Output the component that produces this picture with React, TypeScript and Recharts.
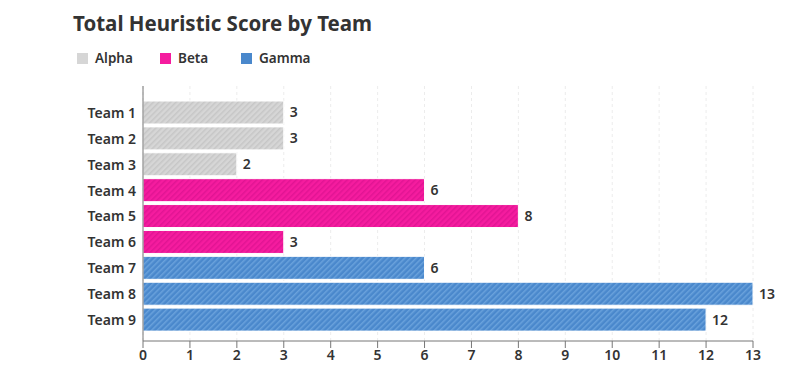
import {
  BarChart,
  Bar,
  XAxis,
  YAxis,
  CartesianGrid,
  Cell,
  LabelList,
} from "recharts";

const teams = ["Team 1", "Team 2", "Team 3", "Team 4", "Team 5", "Team 6", "Team 7", "Team 8", "Team 9"];
const scores = [3, 3, 2, 6, 8, 3, 6, 13, 12];
const groups = ["Alpha", "Alpha", "Alpha", "Beta", "Beta", "Beta", "Gamma", "Gamma", "Gamma"];
const xTicks = [0, 1, 2, 3, 4, 5, 6, 7, 8, 9, 10, 11, 12, 13];

const groupStyle: Record<string, { base: string; stripe: string; id: string }> = {
  Alpha: { base: "#d6d6d6", stripe: "#c6c6c6", id: "hatch-alpha" },
  Beta: { base: "#f51c9f", stripe: "#e11493", id: "hatch-beta" },
  Gamma: { base: "#4a88cc", stripe: "#6aa2dc", id: "hatch-gamma" },
};

const data = teams.map((team, i) => ({ team, score: scores[i], group: groups[i] }));

const font = "'Noto Sans', 'Open Sans', sans-serif";
const tickStyle = { fill: "#333", fontSize: 14, fontWeight: 600, fontFamily: font };

export default function App() {
  return (
    <div
      style={{
        position: "absolute",
        left: 0,
        top: 0,
        width: 810,
        height: 383,
        background: "#fff",
        fontFamily: font,
      }}
    >
      <div
        style={{
          position: "absolute",
          left: 73,
          top: 9,
          fontSize: 20.5,
          fontWeight: 700,
          color: "#333",
          whiteSpace: "nowrap",
        }}
      >
        Total Heuristic Score by Team
      </div>
      <div
        style={{
          position: "absolute",
          left: 77,
          top: 49,
          display: "flex",
          fontSize: 13.5,
          fontWeight: 600,
          color: "#333",
        }}
      >
        {Object.keys(groupStyle).map((g, i) => (
          <div
            key={g}
            style={{
              display: "flex",
              alignItems: "center",
              width: i === 0 ? 83 : 81,
            }}
          >
            <span
              style={{
                display: "inline-block",
                width: 11,
                height: 11,
                background: groupStyle[g].base,
                marginRight: 7,
              }}
            />
            {g}
          </div>
        ))}
      </div>
      <BarChart
        width={810}
        height={383}
        data={data}
        layout="vertical"
        margin={{ top: 86, right: 57, bottom: 12, left: 63 }}
        barSize={23}
        style={{ position: "absolute", left: 0, top: 0 }}
      >
        <defs>
          {Object.values(groupStyle).map((s) => (
            <pattern
              key={s.id}
              id={s.id}
              patternUnits="userSpaceOnUse"
              width={4}
              height={4}
              patternTransform="rotate(45)"
            >
              <rect width={4} height={4} fill={s.base} />
              <rect width={1.5} height={4} fill={s.stripe} />
            </pattern>
          ))}
        </defs>
        <CartesianGrid horizontal={false} stroke="#ececec" strokeDasharray="3 3" />
        <XAxis
          type="number"
          domain={[0, 13]}
          ticks={xTicks}
          interval={0}
          height={30}
          axisLine={{ stroke: "#777" }}
          tickLine={{ stroke: "#777" }}
          tickSize={7}
          tick={tickStyle}
        />
        <YAxis
          type="category"
          dataKey="team"
          width={80}
          interval={0}
          padding={{ top: 14, bottom: 8 }}
          axisLine={{ stroke: "#777" }}
          tickLine={false}
          tickSize={0}
          tickMargin={7}
          tick={tickStyle}
        />
        <Bar dataKey="score" isAnimationActive={false} stroke="#fff" strokeWidth={1}>
          {data.map((d) => (
            <Cell key={d.team} fill={`url(#${groupStyle[d.group].id})`} />
          ))}
          <LabelList dataKey="score" position="right" offset={6} style={tickStyle} />
        </Bar>
      </BarChart>
    </div>
  );
}
